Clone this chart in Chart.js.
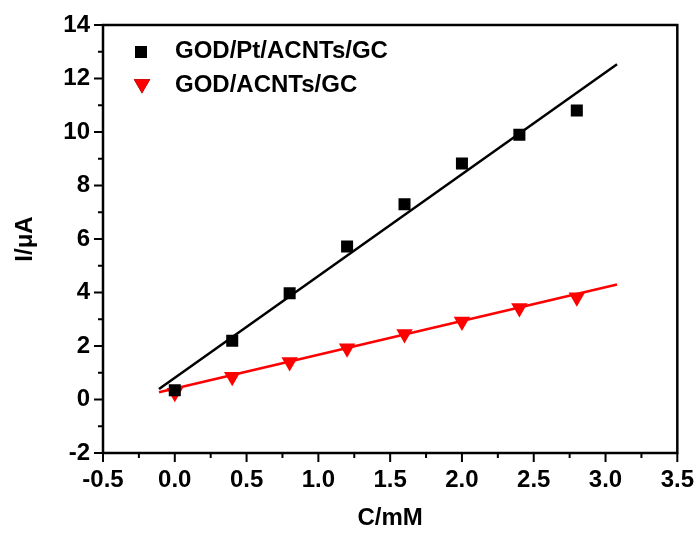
<!DOCTYPE html>
<html>
<head>
<meta charset="utf-8">
<script src="https://cdn.jsdelivr.net/npm/chart.js@4/dist/chart.umd.min.js"></script>
<style>
  html, body { margin: 0; padding: 0; background: #fff; }
  #wrap { width: 699px; height: 533px; }
</style>
</head>
<body>
<div id="wrap"><canvas id="c"></canvas></div>
<script>
// measured data (C in mM, I in uA)
const concentrations = [0, 0.4, 0.8, 1.2, 1.6, 2.0, 2.4, 2.8];
const ptCurrent = [0.35, 2.2, 3.97, 5.72, 7.3, 8.82, 9.9, 10.8];
const plainCurrent = [0.25, 0.85, 1.4, 1.92, 2.45, 2.92, 3.42, 3.82];

// linear fit end points
const fitX = [-0.11, 3.08];
const ptFit = [0.39, 12.53];
const plainFit = [0.27, 4.3];

const seriesLabels = ['GOD/Pt/ACNTs/GC', 'GOD/ACNTs/GC'];
const xTicks = [-0.5, 0, 0.5, 1.0, 1.5, 2.0, 2.5, 3.0, 3.5];
const yTicks = [-2, 0, 2, 4, 6, 8, 10, 12, 14];

const FONT = 'Liberation Sans, Arial, sans-serif';

const toXY = (xs, ys) => xs.map((x, i) => ({ x: x, y: ys[i] }));

// frame, tick marks and legend inside the plot
const decor = {
    id: 'decor',
    afterDraw(chart) {
        const ctx = chart.ctx;
        const a = chart.chartArea;
        const xs = chart.scales.x, ys = chart.scales.y;
        ctx.save();
        ctx.strokeStyle = '#000';
        ctx.lineWidth = 2.5;
        ctx.strokeRect(a.left, a.top, a.right - a.left, a.bottom - a.top);

        ctx.lineWidth = 2;
        ctx.beginPath();
        // x ticks (major + minor)
        for (let v = -0.5; v <= 3.5001; v += 0.25) {
            const px = xs.getPixelForValue(v);
            const major = Math.abs(v * 2 - Math.round(v * 2)) < 1e-6;
            ctx.moveTo(px, a.bottom);
            ctx.lineTo(px, a.bottom + (major ? 9 : 5));
        }
        // y ticks
        for (let v = -2; v <= 14; v += 1) {
            const py = ys.getPixelForValue(v);
            const major = v % 2 === 0;
            ctx.moveTo(a.left, py);
            ctx.lineTo(a.left - (major ? 9 : 5), py);
        }
        ctx.stroke();

        // legend
        const items = [
            { ds: chart.data.datasets[0], x: 141, y: 52, ty: 51 },
            { ds: chart.data.datasets[1], x: 142, y: 84, ty: 85 }
        ];
        ctx.font = 'bold 24px ' + FONT;
        ctx.textBaseline = 'middle';
        items.forEach(it => {
            Chart.helpers.drawPoint(ctx, {
                pointStyle: it.ds.pointStyle,
                rotation: it.ds.rotation || 0,
                radius: it.ds.pointRadius,
                borderWidth: 0
            }, it.x, it.y);
            ctx.fillStyle = it.ds.pointBackgroundColor;
            ctx.fill();
            ctx.fillStyle = '#000';
            ctx.fillText(it.ds.label, 175, it.ty);
        });
        ctx.restore();
    }
};

new Chart(document.getElementById('c'), {
    type: 'scatter',
    data: {
        datasets: [
            {
                label: seriesLabels[0],
                data: toXY(concentrations, ptCurrent),
                pointStyle: 'rect',
                pointRadius: 8.5,
                pointBackgroundColor: '#000',
                pointBorderWidth: 0,
                showLine: false
            },
            {
                label: seriesLabels[1],
                data: toXY(concentrations, plainCurrent),
                pointStyle: 'triangle',
                rotation: 180,
                pointRadius: 9.5,
                pointBackgroundColor: '#ff0000',
                pointBorderWidth: 0,
                showLine: false
            },
            {
                label: 'fit1',
                data: toXY(fitX, ptFit),
                showLine: true,
                borderColor: '#000',
                borderWidth: 2.5,
                pointRadius: 0
            },
            {
                label: 'fit2',
                data: toXY(fitX, plainFit),
                showLine: true,
                borderColor: '#ff0000',
                borderWidth: 2.5,
                pointRadius: 0
            }
        ]
    },
    options: {
        responsive: true,
        maintainAspectRatio: false,
        animation: false,
        layout: { padding: { top: 25, right: 6, left: 0, bottom: 0 } },
        plugins: {
            legend: { display: false },
            tooltip: { enabled: false }
        },
        scales: {
            x: {
                type: 'linear',
                min: -0.5,
                max: 3.5,
                afterBuildTicks: s => { s.ticks = xTicks.map(v => ({ value: v })); },
                afterFit: s => { s.height = 80; },
                grid: { display: false },
                border: { display: false },
                ticks: {
                    color: '#000',
                    padding: 5,
                    maxRotation: 0,
                    font: { family: FONT, size: 24, weight: 'bold' },
                    callback: v => v.toFixed(1)
                },
                title: {
                    display: true,
                    text: 'C/mM',
                    color: '#000',
                    font: { family: FONT, size: 24, weight: 'bold', lineHeight: 0.85 }
                }
            },
            y: {
                min: -2,
                max: 14,
                afterBuildTicks: s => { s.ticks = yTicks.map(v => ({ value: v })); },
                afterFit: s => { s.width = 103; },
                grid: { display: false },
                border: { display: false },
                ticks: {
                    color: '#000',
                    padding: 5,
                    font: { family: FONT, size: 24, weight: 'bold' }
                },
                title: {
                    display: true,
                    text: 'I/\u03bcA',
                    color: '#000',
                    font: { family: FONT, size: 24, weight: 'bold', lineHeight: 1.8 }
                }
            }
        }
    },
    plugins: [decor]
});
</script>
</body>
</html>
